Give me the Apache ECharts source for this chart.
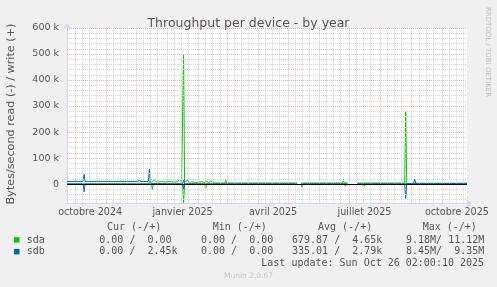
<!DOCTYPE html>
<html><head><meta charset="utf-8">
<script src="https://cdn.jsdelivr.net/npm/echarts@6/dist/echarts.min.js"></script>
<style>html,body{margin:0;padding:0;background:#f0f0f0}#c{width:497px;height:287px}</style>
</head><body><div id="c"></div>
<script>
// ---- data ----
const chartTitle = 'Throughput per device - by year';
const yAxisName = 'Bytes/second read (-) / write (+)';
// x values are days since 2024-10-01
const xMin = -8, xMax = 390;
const yMin = -74000, yMax = 600000;
const monthStartDays = [0, 31, 61, 92, 123, 151, 182, 212, 243, 273, 304, 335, 365];
const quarterLabelDays = [15, 107, 197, 288, 380];
const quarterLabels = ['octobre 2024', 'janvier 2025', 'avril 2025', 'juillet 2025', 'octobre 2025'];
const yTickValues = [0, 100000, 200000, 300000, 400000, 500000, 600000];

const sdaWrite = [[-8,0],[73,0],[74,9000],[76,8000],[77,6000],[79,15000],[81,8000],[86,9000],[90,8000],[94,10000],[98,8000],[102,9000],[104,18000],[106,9000],[107,8000],[108,500000],[109,8000],[110,6000],[112,15000],[114,1000],[116,9000],[119,6000],[123,7000],[126,9000],[129,6000],[131,10000],[133,5000],[135,12000],[137,8000],[139,4000],[149,4000],[150,14000],[151,4000],[180,4000],[181,8000],[182,4000],[221,4000],[222,null],[225,4000],[266,4000],[267,12000],[268,4000],[271,4000],[276,null],[281,4000],[285,4000],[286,7000],[287,4000],[328,4000],[329,278000],[330,2000],[390,2000]];
const sdaRead = [[-8,0],[76,0],[77,-20000],[78,0],[107,0],[108,-72000],[109,0],[129,0],[130,-15000],[131,0],[221,0],[222,null],[225,0],[226,-13000],[227,0],[268,0],[269,-8000],[270,0],[271,0],[276,null],[281,0],[287,0],[288,-8000],[289,0],[390,0]];
const sdbWrite = [[-8,10000],[8,10000],[9,37000],[10,10000],[49,10000],[50,14000],[51,10000],[63,10000],[64,19000],[65,10000],[73,10000],[74,58000],[75,2000],[76,0],[107,0],[108,18000],[109,0],[221,0],[222,null],[225,0],[271,0],[276,null],[281,0],[328,0],[329,3000],[337,3000],[338,19000],[339,3000],[361,3000],[362,9000],[363,3000],[390,3000]];
const sdbRead = [[-8,0],[8,0],[9,-30000],[10,0],[107,0],[108,-20000],[109,0],[221,0],[222,null],[225,0],[271,0],[276,null],[281,0],[328,0],[329,-55000],[330,0],[390,0]];

const legendNames = ['sda', 'sdb'];
const legendHeaders = ['Cur (-/+)', 'Min (-/+)', 'Avg (-/+)', 'Max (-/+)'];
const curValues = ['0.00 /  0.00', '0.00 /  2.45k'];
const minValues = ['0.00 /  0.00', '0.00 /  0.00'];
const avgValues = ['679.87 /  4.65k', '335.01 /  2.79k'];
const maxValues = ['9.18M/ 11.12M', '8.45M/  9.35M'];
const lastUpdate = 'Last update: Sun Oct 26 02:00:10 2025';
const footer = 'Munin 2.0.67';
const watermark = 'RRDTOOL / TOBI OETIKER';

// ---- style ----
const colors = ['#00cc00', '#0066b3'];
const FONT = 'DejaVu Sans';
const MONO = 'DejaVu Sans Mono';
const TXT = '#555555';
const MAJOR = '#f0b4b4';
const MINOR = '#d4d4d4';

const minorY = [];
for (let v = -60000; v < yMax; v += 20000) if (v % 100000 !== 0) minorY.push(v);
const majorY = yTickValues.filter(v => v !== 0);
const weekX = [];
monthStartDays.forEach(m => [7, 14, 21].forEach(k => { if (m + k < xMax) weekX.push(m + k); }));

function lineSeries(data, color, z) {
  return { type: 'line', data: data, showSymbol: false, symbol: 'none', connectNulls: false,
    lineStyle: { color: color, width: 1 }, itemStyle: { color: color }, z: z, silent: true, animation: false };
}
const gridMark = (arr, axis, color) => arr.map(v => ({ [axis]: v, lineStyle: { color: color } }));

const chart = echarts.init(document.getElementById('c'), null, { renderer: 'canvas' });
const legendGraphics = [];
const colX = [99.3, 201, 292, 406];
const headX = [107, 212.7, 318, 422.7];
legendHeaders.forEach((h, i) => legendGraphics.push({ type: 'text', x: headX[i], y: 227.5,
  style: { text: h, font: '10px "' + MONO + '"', fill: TXT, textVerticalAlign: 'middle' } }));
legendNames.forEach((n, r) => {
  const y = 240 + r * 11.7;
  legendGraphics.push({ type: 'rect', shape: { x: 14, y: y - 2.8, width: 5.5, height: 5.5 }, style: { fill: colors[r] } });
  legendGraphics.push({ type: 'text', x: 26.7, y: y, style: { text: n, font: '10px "' + MONO + '"', fill: TXT, textVerticalAlign: 'middle' } });
  [curValues, minValues, avgValues, maxValues].forEach((arr, c) => legendGraphics.push({ type: 'text', x: colX[c], y: y,
    style: { text: arr[r], font: '10px "' + MONO + '"', fill: TXT, textVerticalAlign: 'middle' } }));
});
legendGraphics.push({ type: 'text', x: 261.3, y: 263.5, style: { text: lastUpdate, font: '10px "' + MONO + '"', fill: TXT, textVerticalAlign: 'middle' } });
legendGraphics.push({ type: 'text', x: 248.5, y: 276, style: { text: footer, font: '7.5px "' + FONT + '"', fill: '#c4c4c4', textAlign: 'center', textVerticalAlign: 'middle' } });
legendGraphics.push({ type: 'text', x: 487.5, y: 52, rotation: -Math.PI / 2, style: { text: watermark, font: '7px "' + FONT + '"', fill: '#bdbdbd', textAlign: 'center', textVerticalAlign: 'middle' } });
legendGraphics.push({ type: 'text', x: 11, y: 114, rotation: Math.PI / 2, style: { text: yAxisName, font: '11.2px "' + FONT + '"', fill: TXT, textAlign: 'center', textVerticalAlign: 'middle' } });

chart.setOption({
  backgroundColor: '#f0f0f0',
  animation: false,
  title: { text: chartTitle, left: 'center', top: 12, textStyle: { fontFamily: FONT, fontSize: 12.5, fontWeight: 'normal', color: TXT } },
  grid: { left: 67, top: 28, width: 400, height: 175.3, backgroundColor: '#ffffff', show: true, borderWidth: 0 },
  xAxis: { type: 'value', min: xMin, max: xMax,
    axisLine: { show: true, onZero: false, symbol: ['none', 'arrow'], symbolSize: [6, 6], symbolOffset: [0, 5], lineStyle: { color: '#cfd6f8', width: 1 } },
    axisTick: { show: false }, splitLine: { show: false },
    axisLabel: { customValues: quarterLabelDays, formatter: v => quarterLabels[quarterLabelDays.indexOf(v)] || '',
      fontFamily: FONT, fontSize: 9.6, color: TXT, margin: 4 } },
  yAxis: { type: 'value', min: yMin, max: yMax,
    axisLine: { show: true, onZero: false, symbol: ['none', 'arrow'], symbolSize: [6, 6], symbolOffset: [0, 5], lineStyle: { color: '#cfd6f8', width: 1 } },
    axisTick: { show: false }, splitLine: { show: false },
    axisLabel: { customValues: yTickValues, formatter: v => v === 0 ? '0' : (v / 1000) + ' k',
      fontFamily: FONT, fontSize: 9.5, color: TXT, margin: 8 } },
  graphic: legendGraphics,
  series: [
    { type: 'line', data: [], z: 1, silent: true,
      markLine: { silent: true, symbol: 'none', label: { show: false }, animation: false,
        lineStyle: { type: [1, 1], width: 1 },
        data: [].concat(gridMark(minorY, 'yAxis', MINOR), gridMark(weekX, 'xAxis', MINOR),
          gridMark(majorY, 'yAxis', MAJOR), gridMark(monthStartDays, 'xAxis', MAJOR)) } },
    lineSeries(sdaRead, colors[0], 2),
    lineSeries(sdaWrite, colors[0], 2),
    lineSeries(sdbRead, colors[1], 3),
    lineSeries(sdbWrite, colors[1], 3),
    { type: 'line', data: [], z: 6, silent: true,
      markLine: { silent: true, symbol: 'none', label: { show: false }, animation: false,
        lineStyle: { type: 'solid', width: 1.2, color: '#000000' }, data: [{ yAxis: 0 }] } }
  ]
});
</script></body></html>
